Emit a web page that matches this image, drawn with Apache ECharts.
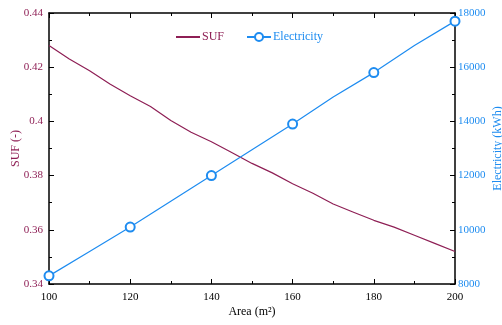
<!DOCTYPE html>
<html><head><meta charset="utf-8">
<script src="https://cdn.jsdelivr.net/npm/echarts@6/dist/echarts.min.js"></script>
<style>html,body{margin:0;padding:0;background:#fff}#c{width:502px;height:325px}</style>
</head><body><div id="c"></div>
<script>
const sufArea = [100,105,110,115,120,125,130,135,140,145,150,155,160,165,170,175,180,185,190,195,200];
const sufValues = [0.428,0.423,0.4187,0.4138,0.4095,0.4055,0.4003,0.396,0.3925,0.3885,0.3845,0.381,0.377,0.3735,0.3695,0.3665,0.3635,0.361,0.358,0.355,0.352];
const elecArea = [100,110,120,130,140,150,160,170,180,190,200];
const elecValues = [8300,9200,10100,11050,12000,12950,13900,14900,15800,16800,17700];
const markerAreas = [100,120,140,160,180,200];

const SUF_C = '#8e1f55', EL_C = '#1e8cf0';
const font = 'Liberation Serif';
const chart = echarts.init(document.getElementById('c'));
const tickCommon = {
  axisLine:{show:true,lineStyle:{color:'#000',width:1.5}},
  axisTick:{show:true,inside:true,length:5,lineStyle:{color:'#000'}},
  minorTick:{show:true,splitNumber:2,length:3,lineStyle:{color:'#000'}},
  splitLine:{show:false}
};
chart.setOption({
  animation:false,
  grid:{left:49,right:47,top:13,bottom:41,containLabel:false,outerBoundsMode:'none'},
  legend:{
    left:170, top:26, itemGap:22, itemWidth:24, itemHeight:10,
    textStyle:{fontFamily:font,fontSize:12,padding:[0,0,0,-3]},
    data:[{name:'SUF',textStyle:{color:SUF_C},itemStyle:{opacity:0}},{name:'Electricity',textStyle:{color:EL_C}}]
  },
  xAxis:[{
    type:'value',min:100,max:200,interval:20,position:'bottom',
    name:'Area (m²)',nameLocation:'middle',nameGap:22,nameMoveOverlap:false,
    nameTextStyle:{fontFamily:font,fontSize:12,color:'#000'},
    axisLabel:{fontFamily:font,fontSize:11,color:'#000',margin:8},
    ...tickCommon
  },{
    type:'value',min:100,max:200,interval:20,position:'top',
    axisLabel:{show:false},
    ...tickCommon
  }],
  yAxis:[{
    type:'value',min:0.34,max:0.44,interval:0.02,position:'left',
    name:'SUF (-)',nameLocation:'middle',nameGap:27,nameRotate:90,nameMoveOverlap:false,
    nameTextStyle:{fontFamily:font,fontSize:12,color:SUF_C},
    axisLabel:{fontFamily:font,fontSize:11,color:SUF_C,margin:6},
    ...tickCommon
  },{
    type:'value',min:8000,max:18000,interval:2000,position:'right',
    name:'Electricity (kWh)',nameLocation:'middle',nameGap:37,nameRotate:90,nameMoveOverlap:false,
    nameTextStyle:{fontFamily:font,fontSize:12,color:EL_C},
    axisLabel:{fontFamily:font,fontSize:11,color:EL_C,margin:3,formatter:v=>String(v)},
    ...tickCommon
  }],
  series:[{
    name:'SUF',type:'line',xAxisIndex:0,yAxisIndex:0,symbol:'none',
    lineStyle:{color:SUF_C,width:1.2},itemStyle:{color:SUF_C},
    data:sufArea.map((a,i)=>[a,sufValues[i]])
  },{
    name:'Electricity',type:'line',xAxisIndex:0,yAxisIndex:1,
    symbol:'emptyCircle',symbolSize:9,showAllSymbol:true,
    lineStyle:{color:EL_C,width:1.2},itemStyle:{color:EL_C,borderWidth:1.3},
    data:elecArea.map((a,i)=>markerAreas.includes(a)?{value:[a,elecValues[i]]}:{value:[a,elecValues[i]],symbol:'none'})
  }]
});
</script></body></html>
